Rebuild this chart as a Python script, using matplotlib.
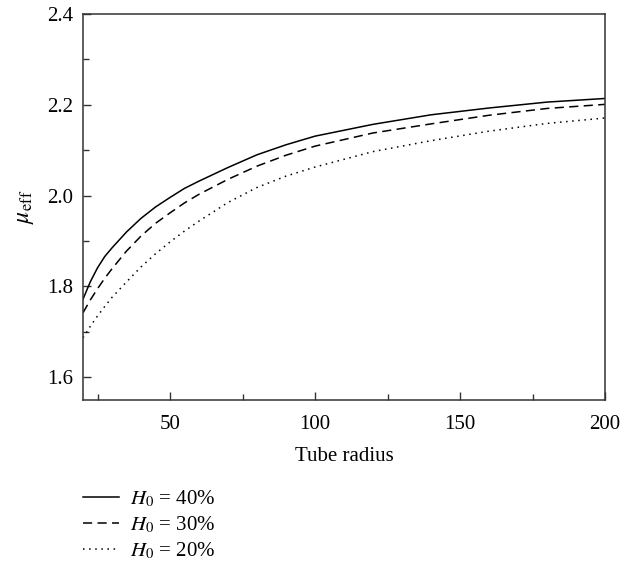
import matplotlib
matplotlib.use("Agg")
import matplotlib.pyplot as plt
from matplotlib.ticker import MultipleLocator

plt.rcParams['font.family'] = ['Liberation Serif', 'DejaVu Serif']
plt.rcParams['mathtext.fontset'] = 'stix'

radius = [20, 22.5, 25, 27.5, 30, 35, 40, 45, 50, 55, 60, 70, 80, 90, 100, 120, 140, 160, 180, 200]
h40 = [1.772, 1.810, 1.841, 1.866, 1.885, 1.920, 1.950, 1.975, 1.996, 2.016, 2.032, 2.062, 2.090,
       2.112, 2.131, 2.157, 2.178, 2.193, 2.206, 2.214]
h30 = [1.742, 1.770, 1.795, 1.818, 1.839, 1.878, 1.911, 1.939, 1.962, 1.984, 2.003, 2.036, 2.065,
       2.089, 2.109, 2.138, 2.158, 2.177, 2.192, 2.201]
h20 = [1.687, 1.712, 1.735, 1.756, 1.776, 1.810, 1.843, 1.872, 1.898, 1.922, 1.944, 1.985, 2.018,
       2.043, 2.063, 2.097, 2.121, 2.142, 2.159, 2.171]
labels = [r'$H_0$ = 40%', r'$H_0$ = 30%', r'$H_0$ = 20%']

fig = plt.figure(figsize=(6.26, 5.63), dpi=100)
ax = fig.add_axes([83/626, 1-400/563, (605-83)/626, (400-14)/563])

l1, = ax.plot(radius, h40, color='black', lw=1.1, linestyle='-')
l2, = ax.plot(radius, h30, color='black', lw=1.1, linestyle=(0, (6, 3.5)))
l3, = ax.plot(radius, h20, color='black', lw=1.1, linestyle=(0, (1, 3)))

ax.set_xlim(20, 200)
ax.set_ylim(1.55, 2.4)
ax.xaxis.set_major_locator(MultipleLocator(50))
ax.xaxis.set_minor_locator(MultipleLocator(25))
ax.yaxis.set_major_locator(MultipleLocator(0.2))
ax.yaxis.set_minor_locator(MultipleLocator(0.1))
ax.tick_params(which='both', direction='in', top=False, right=False, labelsize=15, color='#333333')
ax.tick_params(which='major', length=6, width=1.0)
ax.tick_params(which='minor', length=4, width=1.0)
ax.tick_params(axis='x', pad=11)
ax.tick_params(axis='y', pad=7)
for s in ax.spines.values():
    s.set_linewidth(1.1)
    s.set_color('#333333')

ax.set_xlabel('Tube radius', fontsize=15, labelpad=9)
ax.set_ylabel(r'$\mu_{\mathrm{eff}}$', fontsize=17, labelpad=8)

fig.legend([l1, l2, l3], labels, loc='upper left', bbox_to_anchor=(83/626, 1-489/563),
           frameon=False, fontsize=15, handlelength=1.75, handletextpad=0.5,
           labelspacing=0.25, borderaxespad=0, borderpad=0)

fig.savefig('out.png', dpi=100)
